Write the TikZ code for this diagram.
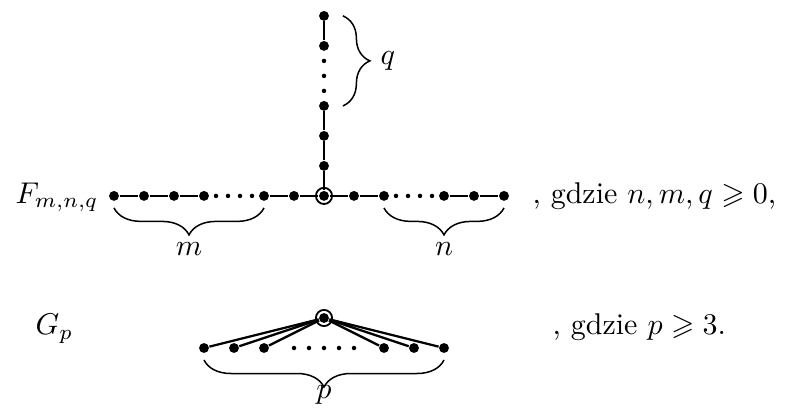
\documentclass[tikz,border=0pt]{standalone}
\usepackage{amsmath,amssymb}
\usepackage{tikz}
\usetikzlibrary{decorations.pathreplacing}

\tikzset{
  wierz/.style={circle, fill, inner sep=0pt, minimum size=3.3pt},
  kropka/.style={circle, fill, inner sep=0pt, minimum size=1.5pt},
  korzen/.style={circle, draw, line width=0.6pt, inner sep=0pt, minimum size=5.4pt},
  krawedz/.style={line width=0.75pt},
  klamra/.style={decorate, decoration={brace, amplitude=9pt}, line width=0.5pt},
}

\begin{document}
\begin{tikzpicture}[x=10pt, y=10pt]
  \useasboundingbox (-10.8,-7.13) rectangle (15.4,6.53);
  % F_{m,n,q}
  \node[wierz] (c) at (0,0) {};
  \node[korzen] (cr) at (c) {};
  \foreach \x/\n in {-7/a1,-6/a2,-5/a3,-4/a4,-2/a5,-1/a6,1/b1,2/b2,4/b3,5/b4,6/b5}
    \node[wierz] (\n) at (\x,0) {};
  \foreach \y/\n in {1/v1,2/v2,3/v3,5/v4,6/v5}
    \node[wierz] (\n) at (0,\y) {};
  \foreach \x [count=\k] in {-3.6,-3.2,-2.8,-2.4,2.4,2.8,3.2,3.6}
    \node[kropka] (kh\k) at (\x,0) {};
  \foreach \y [count=\k] in {3.5,4,4.5}
    \node[kropka] (kv\k) at (0,\y) {};
  \draw[krawedz] (a1) -- (a2) -- (a3) -- (a4);
  \draw[krawedz] (a5) -- (a6) -- (c) -- (b1) -- (b2);
  \draw[krawedz] (b3) -- (b4) -- (b5);
  \draw[krawedz] (c) -- (v1) -- (v2) -- (v3);
  \draw[krawedz] (v4) -- (v5);
  \draw[klamra] ([yshift=-4pt]a5.center) -- ([yshift=-4pt]a1.center) node[midway, below=8pt] (lm) {$m$};
  \draw[klamra] ([yshift=-4pt]b5.center) -- ([yshift=-4pt]b2.center) node[midway, below=8pt] (ln) {$n$};
  \draw[klamra] ([xshift=6.3pt]v5.center) -- ([xshift=6.3pt]v3.center) node[midway, right=9pt] (lq) {$q$};
  \node[anchor=base west, inner sep=0pt] (tF) at (-10.3,-0.25) {$F_{m,n,q}$};
  \node[anchor=base west, inner sep=0pt] (tFw) at (6.93,-0.25) {, gdzie $n, m, q \geqslant 0$,};
  % G_p
  \node[wierz] (g) at (0,-4.07) {};
  \node[korzen] (gr) at (g) {};
  \foreach \x [count=\k] in {-4,-3,-2,2,3,4}
    \node[wierz] (g\k) at (\x,-5.07) {};
  \foreach \x [count=\k] in {-1,-0.5,0,0.5,1}
    \node[kropka] (kg\k) at (\x,-5.07) {};
  \foreach \k in {1,...,6}
    \draw[krawedz] (g) -- (g\k);
  \draw[klamra] ([yshift=-4pt]g6.center) -- ([yshift=-4pt]g1.center) node[midway, below=5pt] (lp) {$p$};
  \node[anchor=base west, inner sep=0pt] (tG) at (-9.63,-4.63) {$G_p$};
  \node[anchor=base west, inner sep=0pt] (tGw) at (7.6,-4.63) {, gdzie $p \geqslant 3$.};
\end{tikzpicture}
\end{document}
